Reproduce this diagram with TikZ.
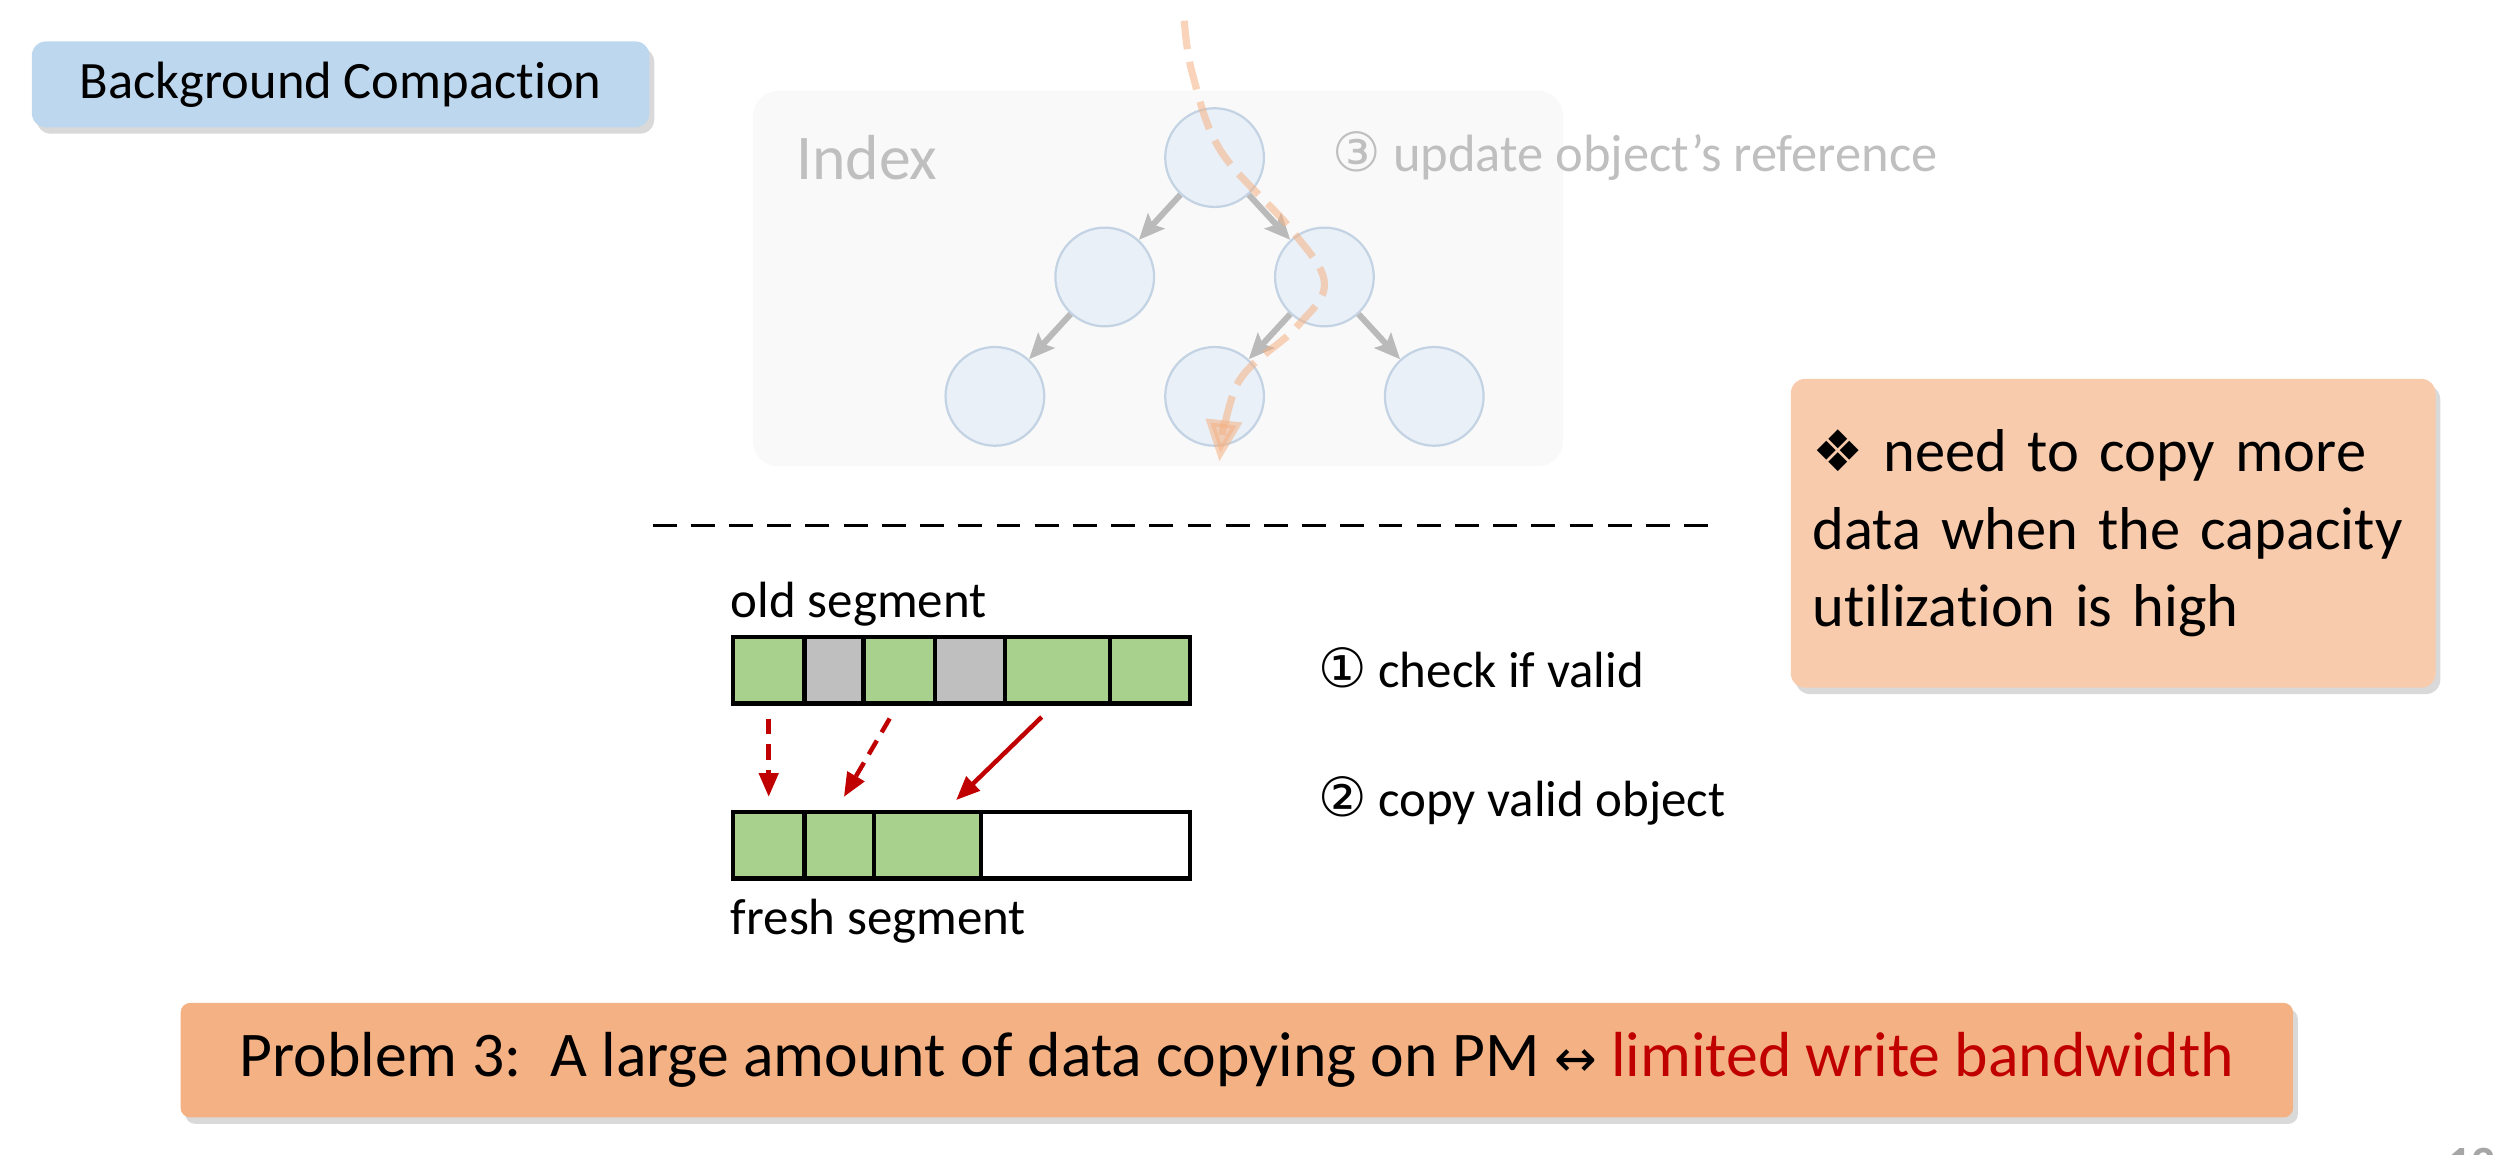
\documentclass[tikz,border=0pt]{standalone}
\usepackage{fontspec}
\setmainfont{Carlito}[Ligatures=NoCommon]
\newfontfamily\symfont{DejaVu Sans}
\usetikzlibrary{arrows.meta,shadows,positioning}

\definecolor{titleblue}{HTML}{BDD7EE}
\definecolor{notepeach}{HTML}{F8CBAD}
\definecolor{bannerorange}{HTML}{F4B183}
\definecolor{validgreen}{HTML}{A9D18E}
\definecolor{invalidgray}{HTML}{BFBFBF}
\definecolor{darkred}{HTML}{C00000}
\definecolor{treefill}{HTML}{E9F0F8}
\definecolor{treeline}{HTML}{C4D3E3}
\definecolor{linkgray}{HTML}{BABABA}
\definecolor{fadegray}{HTML}{BFBFBF}
\definecolor{panelgray}{HTML}{F9F9F9}
\definecolor{pagegray}{HTML}{A6A6A6}

\begin{document}
\begin{tikzpicture}[x=1pt, y=-1pt,
    shadowbox/.style={rounded corners=9pt, inner sep=0pt, drop shadow={shadow xshift=3pt, shadow yshift=-4pt, opacity=0.3}},
    treenode/.style={circle, draw=treeline, fill=treefill, line width=1.4pt, minimum size=62pt, inner sep=0pt},
    treelink/.style={draw=linkgray, line width=3.8pt, -{Stealth[length=16pt,width=14pt,inset=3pt]}},
    refpath/.style={draw=bannerorange, opacity=0.55, line width=4.5pt, dash pattern=on 18pt off 8pt, -{Triangle[length=26pt,width=22pt]}},
    cell/.style={draw=black, line width=2.8pt, minimum height=42pt, inner sep=0pt, anchor=west},
    copyarrow/.style={draw=darkred, line width=2.8pt, -{Triangle[length=15pt,width=12pt]}},
    bodytext/.style={font=\fontsize{32}{38}\selectfont, inner sep=0pt, anchor=base west}]

  % Fix the page size
  \useasboundingbox (0,0) rectangle (1568,725);

  % Title tag
  \node[shadowbox, fill=titleblue, minimum width=388pt, minimum height=54pt, font=\fontsize{33}{40}\selectfont] (title) at (214,53) {Background Compaction};

  % Faded index panel
  \node[rounded corners=16pt, fill=panelgray, minimum width=509pt, minimum height=236pt, inner sep=0pt] (panel) at (727.5,175) {};
  \node[bodytext, text=fadegray, font=\fontsize{40}{46}\selectfont] (indexlabel) at (500,113) {Index};
  \node[bodytext, text=fadegray, font=\fontsize{33}{38}\selectfont] (step3) at (837,108) {{\symfont\fontsize{34}{34}\selectfont ③} update object’s reference};

  % Tree nodes
  \node[treenode] (root) at (763,99) {};
  \node[treenode] (midL) at (694,174) {};
  \node[treenode] (midR) at (832,174) {};
  \node[treenode] (leafL) at (625,249) {};
  \node[treenode] (leafM) at (763,249) {};
  \node[treenode] (leafR) at (901,249) {};
  \foreach \a/\b in {root/midL, root/midR, midL/leafL, midR/leafM, midR/leafR}
  {
    \draw[treelink] (\a) -- (\b);
  }

  % Reference update path
  \draw[refpath] plot[smooth, tension=0.6] coordinates {(744,13) (749,46) (767,95) (811,144) (832,178) (814,206) (778,240) (766,290)};

  % Separator
  \coordinate (sepL) at (410,330);
  \coordinate (sepR) at (1076,330);
  \draw[line width=1.8pt, dash pattern=on 15pt off 9pt] (sepL) -- (sepR);

  % Old segment
  \foreach \l/\r/\c [count=\i] in {459/504/validgreen, 504/541/invalidgray, 541/586/validgreen, 586/630/invalidgray, 630/696/validgreen, 696/746/validgreen}
  {
    \node[cell, fill=\c, minimum width=(\r-\l)*1pt] (old\i) at (\l,421) {};
  }
  % Fresh segment
  \foreach \l/\r/\c [count=\i] in {459/504/validgreen, 504/547.5/validgreen, 547.5/615/validgreen, 615/746/white}
  {
    \node[cell, fill=\c, minimum width=(\r-\l)*1pt] (fresh\i) at (\l,531) {};
  }
  \node[bodytext] (oldlabel) at (459,388) {old segment};
  \node[bodytext] (freshlabel) at (459,587) {fresh segment};

  % Copy arrows
  \draw[copyarrow, dash pattern=on 10pt off 6pt] ([yshift=-8pt]old1.south) -- ([yshift=8pt]fresh1.north);
  \draw[copyarrow, dash pattern=on 10pt off 6pt] ([xshift=-6pt,yshift=-8pt]old3.south) -- ([xshift=3pt,yshift=8pt]fresh2.north);
  \draw[copyarrow] ([xshift=-10pt,yshift=-7pt]old5.south) -- ([xshift=18pt,yshift=6pt]fresh3.north);

  % Step labels
  \node[bodytext] (step1) at (828,432) {{\symfont\fontsize{34}{34}\selectfont ①} check if valid};
  \node[bodytext] (step2) at (828,513) {{\symfont\fontsize{34}{34}\selectfont ②} copy valid object};

  % Note
  \node[shadowbox, fill=notepeach, minimum width=405pt, minimum height=194pt, text width=378pt, align=left, font=\fontsize{38}{48.5}\selectfont] (note) at (1327.5,335) {{\symfont\fontsize{36}{36}\selectfont ❖} need to copy more\\data when the capacity\\utilization is high};

  % Problem banner
  \node[shadowbox, rounded corners=6pt, fill=bannerorange, minimum width=1327pt, minimum height=72pt, font=\fontsize{40}{46}\selectfont] (banner) at (777,666) {Problem 3:\ \ A large amount of data copying on PM {\symfont\fontsize{32}{32}\selectfont ↔} \textcolor{darkred}{limited write bandwidth}};

  % Page number, cut by the page edge
  \node[font=\fontsize{30}{30}\selectfont\bfseries, text=pagegray, anchor=base west, inner sep=0pt] (pagenum) at (1537,741) {12};
\end{tikzpicture}
\end{document}
